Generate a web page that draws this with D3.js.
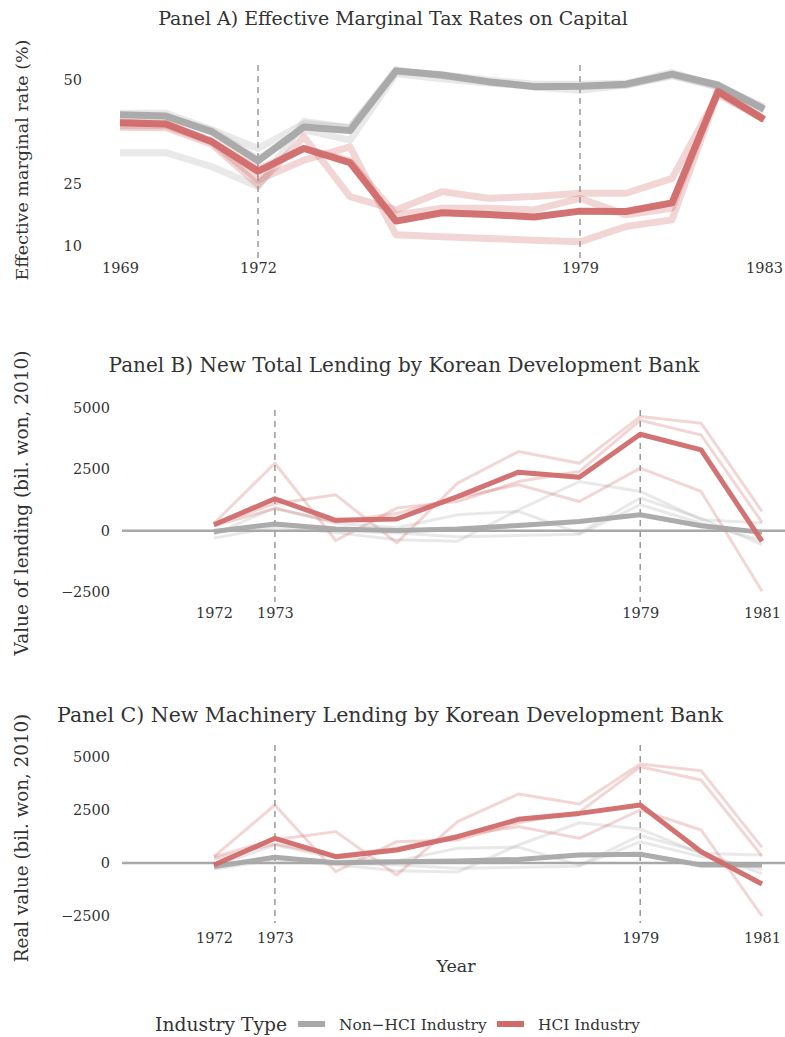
<!DOCTYPE html>
<html>
<head>
<meta charset="utf-8">
<script src="https://cdn.jsdelivr.net/npm/d3@7"></script>
<style>
  body { margin: 0; background: #fff; }
  svg { font-family: "DejaVu Serif", "Liberation Serif", serif; }
</style>
</head>
<body>
<svg id="chart" width="785" height="1037"></svg>
<script>
// Panel A: effective marginal tax rates (%), 1969-1983
const yearsA = d3.range(1969, 1984)
const hciMeanA = [39.7, 39.4, 35.1, 28.0, 33.5, 30.1, 16.0, 18.0, 17.6, 17.0, 18.4, 18.3, 20.4, 47.2, 40.5]
const nonHciMeanA = [41.6, 41.3, 37.5, 30.5, 38.7, 37.8, 52.2, 51.2, 49.6, 48.4, 48.5, 49.0, 51.4, 48.8, 43.0]
const hciIndivA = [
  [38.6, 38.5, 34.5, 24.7, 36.3, 21.9, 18.7, 23.1, 21.5, 21.9, 22.7, 22.7, 26.3, 46.5, 40.5],
  [39.0, 39.0, 35.0, 25.9, 30.7, 33.9, 12.7, 12.2, 11.8, 11.4, 11.0, 14.7, 16.3, 47.0, 40.5],
  [39.8, 39.5, 35.3, 28.5, 33.5, 30.5, 17.5, 19.1, 19.1, 18.7, 21.5, 17.5, 19.1, 47.5, 40.5]
]
const nonHciIndivA = [
  [32.5, 32.5, 29.1, 24.3, 40.0, 38.5, 52.5, 51.0, 49.5, 48.3, 47.5, 48.8, 51.0, 48.5, 43.0],
  [42.0, 42.0, 38.0, 33.5, 39.5, 38.5, 52.0, 51.3, 50.0, 49.0, 49.0, 49.2, 51.8, 48.6, 43.5],
  [41.0, 41.0, 37.8, 31.0, 38.0, 35.5, 51.5, 50.3, 49.3, 48.5, 48.5, 48.8, 51.2, 48.3, 42.5]
]

// Panel B: new total lending (bil. won, 2010), 1972-1981
const yearsB = d3.range(1972, 1982)
const hciMeanB = [244, 1300, 420, 475, 1390, 2385, 2180, 3930, 3290, -435]
const nonHciMeanB = [-30, 270, 70, 10, 70, 210, 370, 650, 200, -70]
const hciIndivB = [
  [250, 1100, 1460, -500, 1940, 3225, 2750, 4650, 4380, 785],
  [300, 2750, -400, 920, 1190, 2000, 2410, 4500, 3900, 340],
  [200, 900, 350, 700, 1350, 1870, 1190, 2550, 1600, -2470]
]
const nonHciIndivB = [
  [-150, 935, 300, 120, 650, 785, -100, 1330, 500, -570],
  [-300, 150, -80, -370, -430, 850, 2000, 1600, 450, 310],
  [-100, 300, 0, -100, -250, -200, -150, 1060, 300, -400]
]

// Panel C: new machinery lending (bil. won, 2010), 1972-1981
const yearsC = d3.range(1972, 1982)
const hciMeanC = [-95, 1165, 300, 613, 1240, 2060, 2340, 2735, 533, -990]
const nonHciMeanC = [-170, 270, 15, 60, 94, 170, 377, 410, -94, -94]
const hciIndivC = [
  [300, 1100, 1480, -566, 1950, 3250, 2780, 4670, 4355, 740],
  [300, 2735, -410, 1006, 1085, 1900, 2400, 4540, 3915, 330],
  [200, 900, 350, 700, 1300, 1715, 1165, 2500, 1557, -2500]
]
const nonHciIndivC = [
  [-150, 850, 250, 100, 700, 750, -100, 1300, 500, -500],
  [-300, 150, -80, -370, -430, 850, 1900, 1600, 450, 377],
  [-100, 300, 0, -100, -250, -200, -150, 1000, 300, -300]
]

const RED = '#d16a6a'
const GREY = '#a8a8a8'
const TEXT = '#333'

const svg = d3.select('#chart')

const drawPanel = p => {
  const g = svg.append('g')
  const x = d3.scaleLinear().domain(p.xDomain).range(p.xRange)
  const y = d3.scaleLinear().domain(p.yDomain).range(p.yRange)
  const line = d3.line().x(d => x(d[0])).y(d => y(d[1]))
  const pairs = vals => vals.map((v, i) => [p.years[i], v])

  g.append('text')
    .attr('x', p.titleX).attr('y', p.titleY)
    .attr('text-anchor', 'middle')
    .attr('font-size', p.titleSize).attr('fill', TEXT)
    .text(p.title)

  if (p.zeroLine) {
    g.append('line')
      .attr('x1', 122).attr('x2', 785)
      .attr('y1', y(0)).attr('y2', y(0))
      .attr('stroke', GREY).attr('stroke-width', 2.5)
  }

  p.dashed.forEach(yr => {
    g.append('line')
      .attr('x1', x(yr)).attr('x2', x(yr))
      .attr('y1', p.dashY[0]).attr('y2', p.dashY[1])
      .attr('stroke', '#999').attr('stroke-width', 1.5)
      .attr('stroke-dasharray', '6,5')
  })

  // faint individual-industry lines first, then the group means on top
  p.nonHciIndiv.forEach(vals => {
    g.append('path').datum(pairs(vals))
      .attr('d', line).attr('fill', 'none')
      .attr('stroke', GREY).attr('stroke-opacity', 0.25)
      .attr('stroke-width', p.thinW).attr('stroke-linejoin', 'round')
  })
  p.hciIndiv.forEach(vals => {
    g.append('path').datum(pairs(vals))
      .attr('d', line).attr('fill', 'none')
      .attr('stroke', RED).attr('stroke-opacity', 0.28)
      .attr('stroke-width', p.thinW).attr('stroke-linejoin', 'round')
  })
  g.append('path').datum(pairs(p.nonHciMean))
    .attr('d', line).attr('fill', 'none')
    .attr('stroke', GREY).attr('stroke-opacity', 0.95)
    .attr('stroke-width', p.meanW).attr('stroke-linejoin', 'round')
  g.append('path').datum(pairs(p.hciMean))
    .attr('d', line).attr('fill', 'none')
    .attr('stroke', RED).attr('stroke-opacity', 0.95)
    .attr('stroke-width', p.meanW).attr('stroke-linejoin', 'round')

  const yAxis = g.append('g')
    .attr('transform', `translate(${p.yLabelX},0)`)
    .call(d3.axisLeft(y).tickValues(p.yTicks).tickSize(0).tickPadding(0)
      .tickFormat(d => d < 0 ? '\u2212' + Math.abs(d) : d))
  yAxis.select('.domain').remove()
  yAxis.selectAll('text').attr('font-size', 14.5).attr('fill', TEXT)
    .attr('font-family', 'DejaVu Serif')

  const xAxis = g.append('g')
    .attr('transform', `translate(0,${p.xLabelY})`)
    .call(d3.axisBottom(x).tickValues(p.xTicks).tickSize(0).tickPadding(0)
      .tickFormat(d3.format('d')))
  xAxis.select('.domain').remove()
  xAxis.selectAll('text').attr('font-size', 14.5).attr('fill', TEXT)
    .attr('font-family', 'DejaVu Serif')

  g.append('text')
    .attr('transform', `translate(28,${p.yTitleY}) rotate(-90)`)
    .attr('text-anchor', 'middle')
    .attr('font-size', p.yTitleSize).attr('fill', TEXT)
    .text(p.yTitle)
}

drawPanel({
  title: 'Panel A) Effective Marginal Tax Rates on Capital', titleY: 25,
  titleX: 393, titleSize: 19,
  years: yearsA, xDomain: [1969, 1983], xRange: [120, 764],
  yDomain: [10, 50], yRange: [246, 80],
  yTicks: [10, 25, 50], xTicks: [1969, 1972, 1979, 1983],
  yLabelX: 82, xLabelY: 263, dashed: [1972, 1979], dashY: [65, 262],
  yTitle: 'Effective marginal rate (%)', yTitleY: 160, yTitleSize: 17.5,
  hciMean: hciMeanA, nonHciMean: nonHciMeanA,
  hciIndiv: hciIndivA, nonHciIndiv: nonHciIndivA,
  meanW: 7, thinW: 7, zeroLine: false
})

drawPanel({
  title: 'Panel B) New Total Lending by Korean Development Bank', titleY: 372,
  titleX: 404, titleSize: 20,
  years: yearsB, xDomain: [1972, 1981], xRange: [214, 762],
  yDomain: [-2500, 5000], yRange: [592, 408],
  yTicks: [-2500, 0, 2500, 5000], xTicks: [1972, 1973, 1979, 1981],
  yLabelX: 110, xLabelY: 608, dashed: [1973, 1979], dashY: [410, 602],
  yTitle: 'Value of lending (bil. won, 2010)', yTitleY: 503, yTitleSize: 18.5,
  hciMean: hciMeanB, nonHciMean: nonHciMeanB,
  hciIndiv: hciIndivB, nonHciIndiv: nonHciIndivB,
  meanW: 5, thinW: 3, zeroLine: true
})

drawPanel({
  title: 'Panel C) New Machinery Lending by Korean Development Bank', titleY: 722,
  titleX: 390, titleSize: 20.5,
  years: yearsC, xDomain: [1972, 1981], xRange: [214, 762],
  yDomain: [-2500, 5000], yRange: [916, 757],
  yTicks: [-2500, 0, 2500, 5000], xTicks: [1972, 1973, 1979, 1981],
  yLabelX: 110, xLabelY: 933, dashed: [1973, 1979], dashY: [745, 923],
  yTitle: 'Real value (bil. won, 2010)', yTitleY: 838, yTitleSize: 18.3,
  hciMean: hciMeanC, nonHciMean: nonHciMeanC,
  hciIndiv: hciIndivC, nonHciIndiv: nonHciIndivC,
  meanW: 5, thinW: 3, zeroLine: true
})

svg.append('text')
  .attr('x', 456).attr('y', 972)
  .attr('text-anchor', 'middle')
  .attr('font-size', 17.5).attr('fill', TEXT)
  .text('Year')

// legend
const legend = svg.append('g')
legend.append('text')
  .attr('x', 155).attr('y', 1031)
  .attr('font-size', 18.7).attr('fill', TEXT)
  .text('Industry Type')
const legendItems = [
  { label: 'Non\u2212HCI Industry', color: GREY, x: 298 },
  { label: 'HCI Industry', color: RED, x: 497 }
]
legendItems.forEach(d => {
  legend.append('line')
    .attr('x1', d.x).attr('x2', d.x + 27)
    .attr('y1', 1024).attr('y2', 1024)
    .attr('stroke', d.color).attr('stroke-width', 6)
  legend.append('text')
    .attr('x', d.x + 41).attr('y', 1030)
    .attr('font-size', 15.4).attr('fill', TEXT)
    .text(d.label)
})
</script>
</body>
</html>
